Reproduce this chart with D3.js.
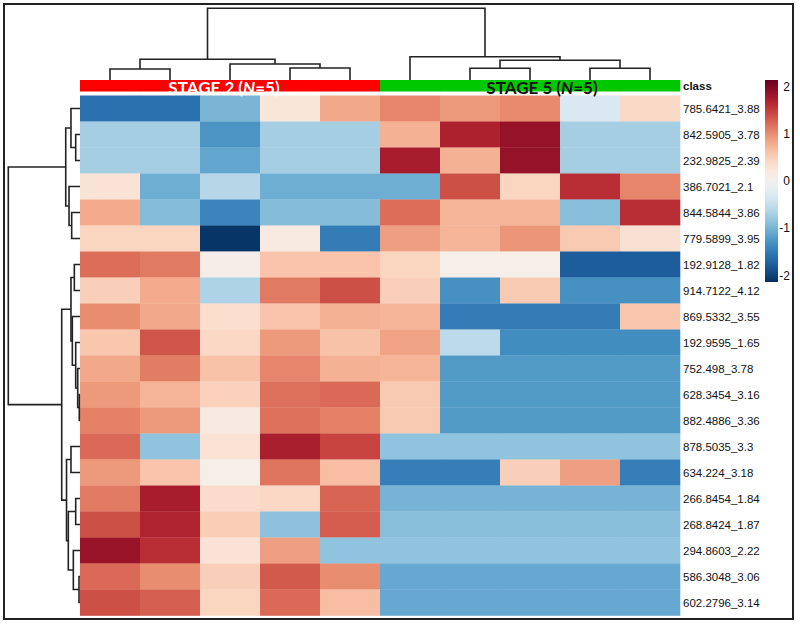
<!DOCTYPE html>
<html>
<head>
<meta charset="UTF-8">
<style>
  body { margin: 0; background: #fff; }
  svg { display: block; }
  .rowlab { font-family: "Liberation Sans", Arial, sans-serif; font-size: 11.5px; fill: #111; }
  .leglab { font-family: "Liberation Sans", Arial, sans-serif; font-size: 12px; fill: #111; }
  .dendro { fill: none; stroke: #222; stroke-width: 1.6; }
</style>
</head>
<body>
<svg id="chart" width="800" height="625"></svg>
<script src="https://d3js.org/d3.v7.min.js"></script>
<script>

// ---- data ----
const rowLabels = ["785.6421_3.88", "842.5905_3.78", "232.9825_2.39", "386.7021_2.1", "844.5844_3.86",
  "779.5899_3.95", "192.9128_1.82", "914.7122_4.12", "869.5332_3.55", "192.9595_1.65",
  "752.498_3.78", "628.3454_3.16", "882.4886_3.36", "878.5035_3.3", "634.224_3.18",
  "266.8454_1.84", "268.8424_1.87", "294.8603_2.22", "586.3048_3.06", "602.2796_3.14"];

const classes = ["STAGE 2", "STAGE 2", "STAGE 2", "STAGE 2", "STAGE 2",
  "STAGE 5", "STAGE 5", "STAGE 5", "STAGE 5", "STAGE 5"];
const classColors = { "STAGE 2": "#ff0000", "STAGE 5": "#00c800" };

// standardized values, one array per row (10 samples)
const values = [
  [-1.6, -1.6, -0.98, 0.26, 0.82, 1.05, 0.92, 1.02, -0.32, 0.4],
  [-0.72, -0.72, -1.28, -0.72, -0.72, 0.75, 1.7, 1.86, -0.72, -0.72],
  [-0.72, -0.72, -1.12, -0.72, -0.72, 1.74, 0.75, 1.86, -0.72, -0.72],
  [0.28, -1.05, -0.6, -1.05, -1.05, -1.05, 1.38, 0.45, 1.6, 1.05],
  [0.8, -0.92, -1.42, -0.92, -0.92, 1.2, 0.72, 0.72, -0.9, 1.6],
  [0.45, 0.45, -2.1, 0.18, -1.5, 0.88, 0.72, 0.95, 0.55, 0.32],
  [1.2, 1.12, 0.1, 0.6, 0.6, 0.45, 0.08, 0.08, -1.78, -1.78],
  [0.5, 0.8, -0.66, 1.12, 1.38, 0.5, -1.32, 0.55, -1.32, -1.32],
  [1.0, 0.82, 0.35, 0.6, 0.75, 0.72, -1.5, -1.5, -1.5, 0.58],
  [0.58, 1.35, 0.42, 0.92, 0.62, 0.85, -0.56, -1.35, -1.35, -1.35],
  [0.82, 1.1, 0.62, 1.05, 0.75, 0.72, -1.22, -1.22, -1.22, -1.22],
  [0.92, 0.72, 0.48, 1.18, 1.22, 0.55, -1.22, -1.22, -1.22, -1.22],
  [1.08, 0.92, 0.16, 1.18, 1.08, 0.55, -1.22, -1.22, -1.22, -1.22],
  [1.22, -0.85, 0.3, 1.72, 1.45, -0.85, -0.85, -0.85, -0.85, -0.85],
  [0.92, 0.6, 0.08, 1.15, 0.65, -1.48, -1.48, 0.5, 0.88, -1.48],
  [1.12, 1.74, 0.38, 0.42, 1.25, -1.0, -1.0, -1.0, -1.0, -1.0],
  [1.38, 1.68, 0.52, -0.87, 1.3, -0.9, -0.9, -0.9, -0.9, -0.9],
  [1.84, 1.6, 0.28, 0.88, -0.85, -0.85, -0.85, -0.85, -0.85, -0.85],
  [1.22, 1.0, 0.5, 1.32, 1.0, -1.1, -1.1, -1.1, -1.1, -1.1],
  [1.38, 1.28, 0.45, 1.22, 0.65, -1.1, -1.1, -1.1, -1.1, -1.1]
];

// clustering trees: [left, right, height], leaf = index
const colTree = [[[0, 1, 1.53], [2, [3, 4, 1.67], 2.23], 2.89],
                 [5, [[6, 7, 1.63], [8, 9, 1.63], 2.75], 3.25], 10];
const rowTree = [
  [[0, [1, 2, 0.6], 1.26], [3, [4, 5, 1.16], 1.53], 1.99],
  [[[6, 7, 0.79], [8, [9, [10, [11, 12, 0.1], 0.32], 0.6], 1.07], 1.26],
   [[13, 14, 1.26], [[15, 16, 0.6], [17, [18, 19, 0.14], 0.93], 1.63], 1.88], 2.55],
  10];

const legendTicks = [2, 1, 0, -1, -2];
const colorDomain = [2.14, 0, -2.14];

// ---- chart ----
const svg = d3.select("#chart");

const x = d3.scaleBand().domain(d3.range(classes.length)).range([80, 680]);
const y = d3.scaleBand().domain(d3.range(rowLabels.length)).range([95.5, 615.5]);
const color = d3.scaleDiverging(colorDomain, d3.interpolateRdBu);

// cells
svg.append("g")
  .selectAll("g")
  .data(values)
  .join("g")
  .each(function (row, i) {
    d3.select(this).selectAll("rect")
      .data(row)
      .join("rect")
      .attr("x", (d, j) => x(j))
      .attr("y", y(i))
      .attr("width", x.bandwidth() + 0.3)
      .attr("height", y.bandwidth() + 0.3)
      .attr("fill", d => color(d));
  });

// class bar
svg.append("g")
  .selectAll("rect")
  .data(classes)
  .join("rect")
  .attr("x", (d, j) => x(j))
  .attr("y", 80)
  .attr("width", x.bandwidth() + 0.3)
  .attr("height", 11.5)
  .attr("fill", d => classColors[d]);

// class labels, centred over each group
const groups = d3.groups(classes.map((c, j) => ({ c, j })), d => d.c);
const labelShift = { "STAGE 2": -6, "STAGE 5": 12 };
const labelFill = { "STAGE 2": "#fff", "STAGE 5": "#111" };
groups.forEach(([c, items]) => {
  const cx = d3.mean(items, d => x(d.j) + x.bandwidth() / 2) + labelShift[c];
  const t = svg.append("text")
    .attr("x", cx).attr("y", 93.5)
    .attr("text-anchor", "middle")
    .style("font-family", "Lato, 'Open Sans', sans-serif")
    .style("font-weight", "bold")
    .style("font-size", "17px")
    .attr("fill", labelFill[c]);
  t.append("tspan").text(c + " (");
  t.append("tspan").style("font-style", "italic").text("N");
  t.append("tspan").text("=" + items.length + ")");
});

svg.append("text")
  .attr("x", 683).attr("y", 89.5)
  .style("font-family", "'Liberation Sans', Arial, sans-serif")
  .style("font-weight", "bold")
  .style("font-size", "11.5px")
  .attr("fill", "#111")
  .text("class");

// row labels
svg.append("g")
  .selectAll("text")
  .data(rowLabels)
  .join("text")
  .attr("class", "rowlab")
  .attr("x", 683)
  .attr("y", (d, i) => y(i) + y.bandwidth() / 2)
  .attr("dy", "0.35em")
  .text(d => d);

// dendrograms
function layout(node, pos) {
  if (!Array.isArray(node)) return { p: pos(node), h: 0 };
  const l = layout(node[0], pos), r = layout(node[1], pos);
  return { p: (l.p + r.p) / 2, h: node[2], l, r };
}
function segments(n, out) {
  if (!n.l) return out;
  out.push([n.l, n.r, n.h]);
  segments(n.l, out); segments(n.r, out);
  return out;
}

const colRoot = layout(colTree, j => x(j) + x.bandwidth() / 2);
const colH = d3.scaleLinear().domain([0, colRoot.h]).range([80, 8.3]);
svg.append("g")
  .selectAll("path")
  .data(segments(colRoot, []))
  .join("path")
  .attr("class", "dendro")
  .attr("d", ([l, r, h]) => `M${l.p},${colH(l.h)}V${colH(h)}H${r.p}V${colH(r.h)}`);

const rowRoot = layout(rowTree, i => y(i) + y.bandwidth() / 2);
const rowH = d3.scaleLinear().domain([0, rowRoot.h]).range([80, 8.3]);
svg.append("g")
  .selectAll("path")
  .data(segments(rowRoot, []))
  .join("path")
  .attr("class", "dendro")
  .attr("d", ([l, r, h]) => `M${rowH(l.h)},${l.p}H${rowH(h)}V${r.p}H${rowH(r.h)}`);

// colour legend
const legY = d3.scaleLinear().domain([colorDomain[0], colorDomain[2]]).range([80, 282]);
const grad = svg.append("defs").append("linearGradient")
  .attr("id", "leg").attr("x1", 0).attr("x2", 0).attr("y1", 0).attr("y2", 1);
grad.selectAll("stop")
  .data(d3.range(0, 1.0001, 0.05))
  .join("stop")
  .attr("offset", d => d)
  .attr("stop-color", d => color(legY.invert(80 + d * 202)));
svg.append("rect")
  .attr("x", 765).attr("y", legY(colorDomain[0]))
  .attr("width", 13).attr("height", legY(colorDomain[2]) - legY(colorDomain[0]))
  .attr("fill", "url(#leg)");
svg.append("g")
  .selectAll("text")
  .data(legendTicks)
  .join("text")
  .attr("class", "leglab")
  .attr("x", 790)
  .attr("y", d => legY(d))
  .attr("dy", "0.35em")
  .attr("text-anchor", "end")
  .text(d => d);

// frame
svg.append("rect")
  .attr("x", 4).attr("y", 4).attr("width", 789).attr("height", 615)
  .attr("fill", "none").attr("stroke", "#222").attr("stroke-width", 2);

</script>
</body>
</html>
